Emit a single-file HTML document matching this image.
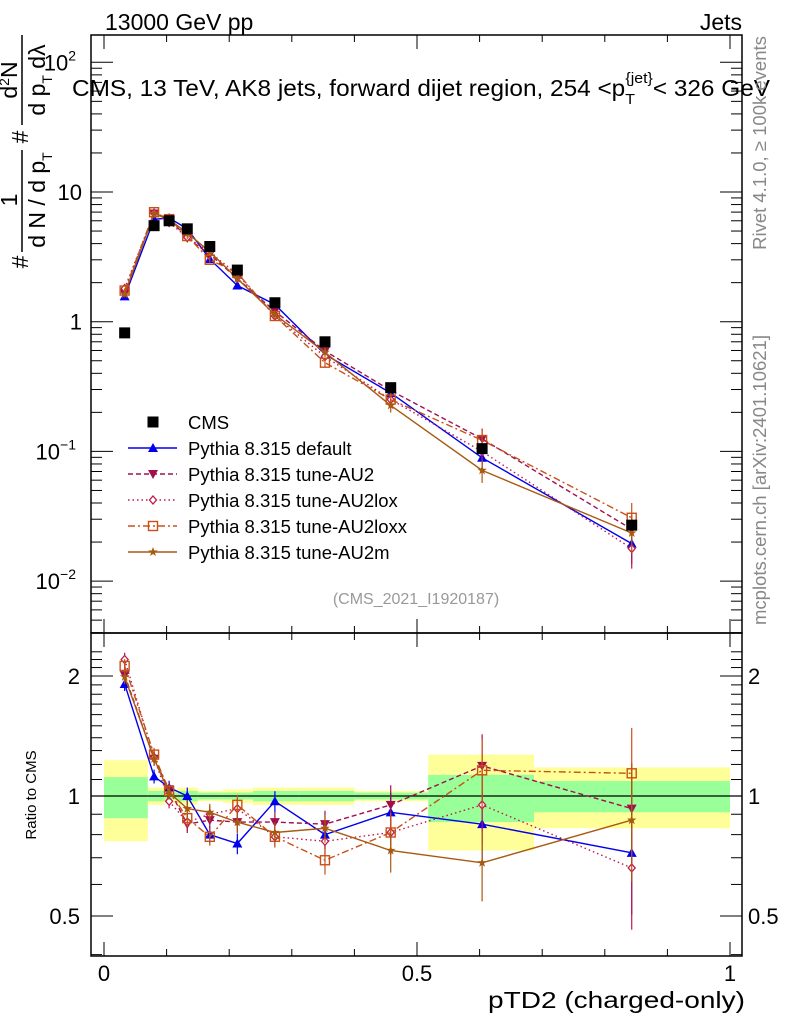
<!DOCTYPE html>
<html><head><meta charset="utf-8"><style>
body{margin:0;background:#fff}
svg{display:block;font-family:"Liberation Sans",sans-serif}
</style></head><body>
<svg id="c" width="786" height="1024" xmlns="http://www.w3.org/2000/svg">
<g id="bands"></g>
<g id="grid"></g>
<g id="series"></g>
<text x="105" y="30" font-size="23">13000 GeV pp</text>
<text x="742" y="30" font-size="23" text-anchor="end">Jets</text>
<text x="72" y="96" font-size="23" textLength="698" lengthAdjust="spacingAndGlyphs">CMS, 13 TeV, AK8 jets, forward dijet region, 254 &lt;p<tspan font-size="15" dy="8">T</tspan><tspan font-size="15" dx="-9" dy="-21">{jet}</tspan><tspan dy="13">&lt; 326 GeV</tspan></text>
<text x="416" y="604" font-size="16" fill="#999" text-anchor="middle">(CMS_2021_I1920187)</text>
<text transform="translate(766,143) rotate(-90)" font-size="18.5" fill="#888" text-anchor="middle">Rivet 4.1.0, ≥ 100k events</text>
<text transform="translate(766,480) rotate(-90)" font-size="18.5" fill="#888" text-anchor="middle">mcplots.cern.ch [arXiv:2401.10621]</text>
<g font-size="23">
<line x1="22" y1="35" x2="22" y2="125" stroke="#000" stroke-width="1.5"/>
<text transform="translate(17,80) rotate(-90)" text-anchor="middle">d<tspan font-size="14" dy="-8">2</tspan><tspan dy="8">N</tspan></text>
<text transform="translate(45,80) rotate(-90)" text-anchor="middle">d p<tspan font-size="14" dy="7">T</tspan><tspan dy="-7"> dλ</tspan></text>
<text transform="translate(28,137) rotate(-90)" text-anchor="middle">#</text>
<line x1="22" y1="150" x2="22" y2="252" stroke="#000" stroke-width="1.5"/>
<text transform="translate(17,200) rotate(-90)" text-anchor="middle">1</text>
<text transform="translate(45,200) rotate(-90)" text-anchor="middle">d N / d p<tspan font-size="14" dy="7">T</tspan></text>
<text transform="translate(28,262) rotate(-90)" text-anchor="middle">#</text>
</g>
<text transform="translate(36,795) rotate(-90)" font-size="15" text-anchor="middle">Ratio to CMS</text>
<text x="745" y="1008" font-size="23" textLength="257" lengthAdjust="spacingAndGlyphs" text-anchor="end">pTD2 (charged-only)</text>
<g id="legend"></g>
</svg>
<script>
const xVals=[0.033,0.080,0.104,0.133,0.169,0.213,0.273,0.353,0.458,0.604,0.843];
const binEdges=[0,0.070,0.097,0.118,0.150,0.190,0.238,0.311,0.400,0.518,0.687,1.0];
const cmsVals=[0.82,5.5,6.0,5.2,3.8,2.5,1.4,0.70,0.31,0.105,0.027];
const greenUp=[1.115,1.03,1.02,1.03,1.02,1.02,1.03,1.03,1.02,1.13,1.09];
const greenDn=[0.88,0.97,0.98,0.97,0.98,0.98,0.97,0.97,0.98,0.86,0.91];
const yellowUp=[1.23,1.05,1.04,1.05,1.03,1.04,1.05,1.05,1.03,1.27,1.18];
const yellowDn=[0.77,0.95,0.96,0.95,0.97,0.96,0.95,0.95,0.97,0.73,0.83];
const ratioDefault=[1.91,1.12,1.05,1.00,0.80,0.76,0.97,0.80,0.91,0.85,0.72];
const ratioAU2=[2.01,1.24,1.04,0.85,0.87,0.86,0.86,0.85,0.95,1.19,0.93];
const ratioAU2lox=[2.20,1.25,0.97,0.86,0.90,0.93,0.79,0.77,0.81,0.95,0.66];
const ratioAU2loxx=[2.12,1.27,1.03,0.88,0.79,0.95,0.79,0.69,0.81,1.16,1.14];
const ratioAU2m=[1.99,1.24,1.02,0.93,0.91,0.86,0.81,0.83,0.73,0.68,0.87];
const relErr=[0.04,0.04,0.04,0.05,0.05,0.06,0.06,0.08,0.12,0.2,0.3];
const xTicks=[0,0.5,1];
const xTickLabels=["0","0.5","1"];

const NS="http://www.w3.org/2000/svg";
const L=91,R=742,T=35,MB=633,RB=956;
const X=v=>104+626*v;
const YM=v=>192-129.7*Math.log10(v/10);
const YR=v=>796-120*Math.log2(v);
function el(tag,attrs,parent){const e=document.createElementNS(NS,tag);for(const k in attrs)e.setAttribute(k,attrs[k]);parent.appendChild(e);return e;}
const G=document.getElementById('grid'),B=document.getElementById('bands'),S=document.getElementById('series'),LG=document.getElementById('legend');

for(let i=0;i<xVals.length;i++){
  const x1=X(binEdges[i]),x2=X(binEdges[i+1]);
  const y=el('rect',{x:x1,y:YR(yellowUp[i]),width:x2-x1,height:YR(yellowDn[i])-YR(yellowUp[i]),fill:'#ffff99'},B);
  
  
  const g=el('rect',{x:x1,y:YR(greenUp[i]),width:x2-x1,height:YR(greenDn[i])-YR(greenUp[i]),fill:'#99ff99'},B);
  
  
}
el('rect',{x:L,y:T,width:R-L,height:MB-T,fill:'none',stroke:'#000','stroke-width':1.5},G);
el('rect',{x:L,y:MB,width:R-L,height:RB-MB,fill:'none',stroke:'#000','stroke-width':1.5},G);
el('line',{x1:L,y1:YR(1),x2:R,y2:YR(1),stroke:'#000','stroke-width':1.2},G);
for(let v=0;v<=1.0001;v+=0.1){
  const big=Math.abs(v*2-Math.round(v*2))<1e-6, len=big?14:7;
  [[T,1],[MB,-1],[MB,1],[RB,-1]].forEach(([y0,d])=>el('line',{x1:X(v),y1:y0,x2:X(v),y2:y0+d*len,stroke:'#000'},G));
}
xTicks.forEach((v,i)=>{const t=el('text',{x:X(v),y:981,'font-size':22,'text-anchor':'middle'},G);t.textContent=xTickLabels[i];

});
for(let d=-3;d<=2;d++)for(let m=1;m<10;m++){const v=m*Math.pow(10,d);const y=YM(v);if(y<T||y>MB)continue;
  const len=m==1?22:11;el('line',{x1:L,y1:y,x2:L+len,y2:y,stroke:'#000'},G);el('line',{x1:R,y1:y,x2:R-len,y2:y,stroke:'#000'},G);}
[[1e-2,'10','−2'],[0.1,'10','−1'],[1,'1',''],[10,'10',''],[100,'10','2']].forEach(([v,b,e])=>{
  const t=el('text',{x:e?76:82,y:YM(v)+8,'font-size':22,'text-anchor':'end'},G);t.textContent=b;
  
  
  if(e){const s=el('tspan',{'font-size':14,dy:-10},t);s.textContent=e;}});
for(let v=0.4;v<=2.31;v+=0.1){const y=YR(v);if(y<MB||y>RB)continue;const big=[0.5,1,2].some(q=>Math.abs(q-v)<1e-6);const len=big?22:11;
  el('line',{x1:L,y1:y,x2:L+len,y2:y,stroke:'#000'},G);el('line',{x1:R,y1:y,x2:R-len,y2:y,stroke:'#000'},G);}
[[0.5,'0.5'],[1,'1'],[2,'2']].forEach(([v,s])=>{
  const t=el('text',{x:80,y:YR(v)+8,'font-size':22,'text-anchor':'end'},G);t.textContent=s;
  
  
  const t2=el('text',{x:748,y:YR(v)+8,'font-size':22},G);t2.textContent=s;
  
  });

function marker(type,x,y,col,p){
  const s=5;
  if(type=='tri')return el('polygon',{points:`${x-s},${y+s*0.8} ${x+s},${y+s*0.8} ${x},${y-s}`,fill:col},p);
  if(type=='tridn')return el('polygon',{points:`${x-s},${y-s*0.8} ${x+s},${y-s*0.8} ${x},${y+s}`,fill:col},p);
  if(type=='dia')return el('polygon',{points:`${x},${y-4} ${x+3.5},${y} ${x},${y+4} ${x-3.5},${y}`,fill:'#fff',stroke:col,'stroke-width':1.3},p);
  if(type=='sq')return el('rect',{x:x-4.5,y:y-4.5,width:9,height:9,fill:'none',stroke:col,'stroke-width':1.4},p);
  if(type=='star'){let pts=[];for(let k=0;k<10;k++){const r=k%2?2:5,a=-Math.PI/2+k*Math.PI/5;pts.push((x+r*Math.cos(a)).toFixed(1)+','+(y+r*Math.sin(a)).toFixed(1));}
    return el('polygon',{points:pts.join(' '),fill:col},p);}
  return el('rect',{x:x-5.5,y:y-5.5,width:11,height:11,fill:col},p);
}
const seriesDefs=[
 {name:'Pythia 8.315 default',r:ratioDefault,col:'#0000ee',dash:'',m:'tri',id:'default'},
 {name:'Pythia 8.315 tune-AU2',r:ratioAU2,col:'#a01050',dash:'5,3',m:'tridn',id:'au2'},
 {name:'Pythia 8.315 tune-AU2lox',r:ratioAU2lox,col:'#c0184a',dash:'1.5,3',m:'dia',id:'au2lox'},
 {name:'Pythia 8.315 tune-AU2loxx',r:ratioAU2loxx,col:'#c85018',dash:'7,3,2,3',m:'sq',id:'au2loxx'},
 {name:'Pythia 8.315 tune-AU2m',r:ratioAU2m,col:'#a85a10',dash:'',m:'star',id:'au2m'}];
seriesDefs.forEach(sd=>{
  const g=el('g',{},S);
  
  
  const mainV=cmsVals.map((c,i)=>c*sd.r[i]);
  const st={fill:'none',stroke:sd.col,'stroke-width':1.4};if(sd.dash)st['stroke-dasharray']=sd.dash;
  el('polyline',Object.assign({points:xVals.map((x,i)=>X(x)+','+YM(mainV[i])).join(' ')},st),g);
  el('polyline',Object.assign({points:xVals.map((x,i)=>X(x)+','+YR(sd.r[i])).join(' ')},st),g);
  xVals.forEach((x,i)=>{
    [[YM,mainV[i]],[YR,sd.r[i]]].forEach(([f,v])=>{
      el('line',{x1:X(x),y1:f(v*(1+relErr[i])),x2:X(x),y2:f(v*(1-relErr[i])),stroke:sd.col,'stroke-width':1.2},g);
      const m=marker(sd.m,X(x),f(v),sd.col,g);
      
      
    });
  });
});
const cg=el('g',{},S);


xVals.forEach((x,i)=>{const m=marker('cms',X(x),YM(cmsVals[i]),'#000',cg);
  
  });
const legY=[422,448,474,500,526,552];
const lc=el('g',{},LG);


marker('cms',153,legY[0],'#000',lc);
let t0=el('text',{x:188,y:legY[0]+7,'font-size':18.5},lc);t0.textContent='CMS';
seriesDefs.forEach((sd,i)=>{
  const g=el('g',{},LG);
  
  
  const y=legY[i+1];const st={x1:128,y1:y,x2:177,y2:y,stroke:sd.col,'stroke-width':1.4};if(sd.dash)st['stroke-dasharray']=sd.dash;
  el('line',st,g);marker(sd.m,153,y,sd.col,g);
  const t=el('text',{x:188,y:y+7,'font-size':18.5},g);t.textContent=sd.name;
});
</script>
</body></html>
